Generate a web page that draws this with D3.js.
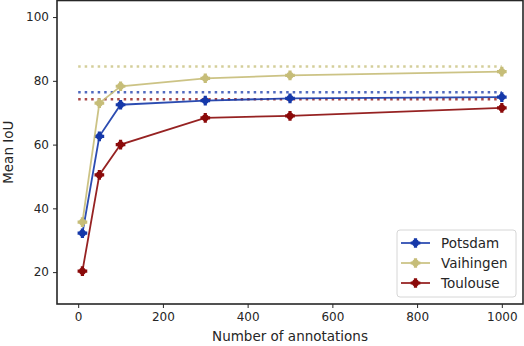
<!doctype html>
<html>
<head>
<script src="https://d3js.org/d3.v7.min.js"></script>
<style>
  body { margin: 0; background: #fff; }
  text { font-family: "DejaVu Sans", sans-serif; fill: #262626; }
</style>
</head>
<body>
<svg id="chart" width="524" height="346"></svg>
<script>
    // number of annotations
    var xs = [10, 50, 100, 300, 500, 1000];
    var series = ["Potsdam", "Vaihingen", "Toulouse"];
    var potsdam = [32.2, 62.6, 72.5, 73.8, 74.5, 74.9];
    var vaihingen = [35.7, 73.0, 78.3, 80.8, 81.7, 82.9];
    var toulouse = [20.3, 50.5, 60.0, 68.4, 69.0, 71.5];
    // full supervision reference (dotted lines)
    var fullRef = [76.4, 84.5, 74.2];
    var refRange = [0, 1000];
    var xTicks = [0, 200, 400, 600, 800, 1000];
    var yTicks = [20, 40, 60, 80, 100];

    var colors = ["#1538a9", "#c6bd78", "#8b0a0a"];
    var values = [potsdam, vaihingen, toulouse];

    var svg = d3.select("#chart");
    var mLeft = 57, mRight = 523, mTop = 0.5, mBottom = 304;

    var x = d3.scaleLinear().domain([-50, 1050]).range([mLeft, mRight]);
    var y = d3.scaleLinear().domain([10, 105.2]).range([mBottom, mTop]);

    // axes
    svg.append("g")
        .attr("transform", "translate(0," + mBottom + ")")
        .call(d3.axisBottom(x).tickValues(xTicks).tickFormat(d3.format("d")).tickSize(4).tickPadding(4))
        .call(g => g.select(".domain").remove())
        .call(g => g.selectAll("text").style("font-size", "12px"));
    svg.append("g")
        .attr("transform", "translate(" + mLeft + ",0)")
        .call(d3.axisLeft(y).tickValues(yTicks).tickSize(4).tickPadding(4))
        .call(g => g.select(".domain").remove())
        .call(g => g.selectAll("text").style("font-size", "12px"));
    svg.selectAll(".tick line").attr("stroke", "#262626");

    // dotted reference lines
    series.forEach(function (s, i) {
        svg.append("line")
            .attr("x1", x(refRange[0])).attr("x2", x(refRange[1]))
            .attr("y1", y(fullRef[i])).attr("y2", y(fullRef[i]))
            .attr("stroke", colors[i])
            .attr("stroke-opacity", 0.75)
            .attr("stroke-width", 2.5)
            .attr("stroke-dasharray", "2.5,4");
    });

    var line = d3.line()
        .x((d, i) => x(xs[i]))
        .y(d => y(d));
    var marker = d3.symbol().type(d3.symbolCross).size(52);

    function drawMarker(sel, color) {
        sel.append("circle").attr("r", 3.4).attr("fill", color);
        sel.append("path").attr("d", marker).attr("fill", color);
    }

    // lines with markers
    series.forEach(function (s, i) {
        var g = svg.append("g");
        g.append("path")
            .datum(values[i])
            .attr("d", line)
            .attr("fill", "none")
            .attr("stroke", colors[i])
            .attr("stroke-opacity", 0.9)
            .attr("stroke-width", 1.8);
        g.selectAll("g.m")
            .data(values[i])
            .enter()
            .append("g")
            .attr("class", "m")
            .attr("transform", (d, j) => "translate(" + x(xs[j]) + "," + y(d) + ")")
            .call(drawMarker, colors[i]);
    });

    // frame
    svg.append("rect")
        .attr("x", mLeft).attr("y", mTop)
        .attr("width", mRight - mLeft).attr("height", mBottom - mTop)
        .attr("fill", "none")
        .attr("stroke", "#262626")
        .attr("stroke-width", 1.6);

    // axis labels
    svg.append("text")
        .attr("x", 290).attr("y", 341)
        .attr("text-anchor", "middle")
        .style("font-size", "13.5px")
        .text("Number of annotations");
    svg.append("text")
        .attr("transform", "translate(13," + (mBottom + mTop) / 2 + ") rotate(-90)")
        .attr("text-anchor", "middle")
        .style("font-size", "13.5px")
        .text("Mean IoU");

    // legend
    var lg = svg.append("g").attr("transform", "translate(397,230)");
    lg.append("rect")
        .attr("width", 119).attr("height", 67).attr("rx", 3)
        .attr("fill", "#fff").attr("fill-opacity", 0.8)
        .attr("stroke", "#d6d6d6");
    series.forEach(function (s, i) {
        var yy = 13 + i * 20;
        lg.append("line")
            .attr("x1", 4).attr("x2", 33)
            .attr("y1", yy).attr("y2", yy)
            .attr("stroke", colors[i]).attr("stroke-opacity", 0.8)
            .attr("stroke-width", 2);
        lg.append("g")
            .attr("transform", "translate(18.5," + yy + ")")
            .call(drawMarker, colors[i]);
        lg.append("text")
            .attr("x", 44).attr("y", yy + 5)
            .style("font-size", "13.5px")
            .text(s);
    });
</script>
</body>
</html>
